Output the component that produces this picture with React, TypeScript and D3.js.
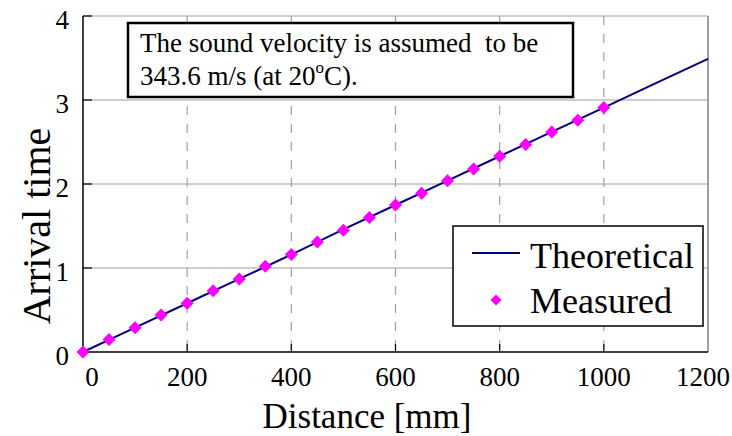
import React from "react";
import * as d3 from "d3";

const distances = [0, 50, 100, 150, 200, 250, 300, 350, 400, 450, 500, 550, 600, 650, 700, 750, 800, 850, 900, 950, 1000];
const measured = [0, 0.15, 0.29, 0.44, 0.58, 0.73, 0.87, 1.02, 1.16, 1.31, 1.45, 1.6, 1.75, 1.89, 2.04, 2.18, 2.33, 2.47, 2.62, 2.76, 2.91];
const theoDist = [0, 100, 200, 300, 400, 500, 600, 700, 800, 900, 1000, 1100, 1200];
const theoretical = [0, 0.29, 0.58, 0.87, 1.16, 1.46, 1.75, 2.04, 2.33, 2.62, 2.91, 3.2, 3.49];
const xTicks = [0, 200, 400, 600, 800, 1000, 1200];
const yTicks = [0, 1, 2, 3, 4];

const W = 732;
const H = 436;
const FONT = "'Liberation Serif', 'Times New Roman', serif";

export default function App() {
  const x = d3.scaleLinear().domain([0, 1200]).range([83, 708]);
  const y = d3.scaleLinear().domain([0, 4]).range([352, 16]);
  const line = d3
    .line<number>()
    .x((_, i) => x(theoDist[i]))
    .y((v) => y(v));
  const diamond = (cx: number, cy: number, r: number) =>
    `M${cx},${cy - r}L${cx + r},${cy}L${cx},${cy + r}L${cx - r},${cy}Z`;
  const tf = { fontFamily: FONT };

  return (
    <svg
      width={W}
      height={H}
      style={{ position: "fixed", left: 0, top: 0, background: "#fff" }}
      fontFamily={FONT}
    >
      <rect x={0} y={0} width={W} height={H} fill="#fff" />
      {yTicks.slice(1).map((t) => (
        <line key={"h" + t} x1={x(0)} x2={x(1200)} y1={y(t)} y2={y(t)} stroke="#a0a0a0" strokeWidth={1.2} />
      ))}
      {xTicks.slice(1, -1).map((t) => (
        <line key={"v" + t} x1={x(t)} x2={x(t)} y1={y(4)} y2={y(0)} stroke="#a0a0a0" strokeWidth={1.2} strokeDasharray="9,9" />
      ))}
      <line x1={x(1200)} x2={x(1200)} y1={y(4)} y2={y(0)} stroke="#808080" strokeWidth={1.5} />
      <line x1={x(0)} x2={x(0)} y1={y(4)} y2={y(0)} stroke="#000" strokeWidth={1.5} />
      <line x1={x(0)} x2={x(1200)} y1={y(0)} y2={y(0)} stroke="#000" strokeWidth={1.5} />
      {xTicks.slice(1, -1).map((t) => (
        <line key={"xt" + t} x1={x(t)} x2={x(t)} y1={y(0)} y2={y(0) - 8} stroke="#000" strokeWidth={1.2} />
      ))}
      {yTicks.slice(1).map((t) => (
        <line key={"yt" + t} x1={x(0)} x2={x(0) + 9} y1={y(t)} y2={y(t)} stroke="#000" strokeWidth={1.2} />
      ))}
      {xTicks.map((t) => (
        <text key={"xl" + t} x={x(t) + (t === 0 ? 9 : t === 1200 ? -5 : 0)} y={386} fontSize={27} textAnchor="middle" fill="#000" style={tf}>
          {t}
        </text>
      ))}
      {yTicks.map((t) => (
        <text key={"yl" + t} x={69} y={y(t) + 13} fontSize={27} textAnchor="end" fill="#000" style={tf}>
          {t}
        </text>
      ))}
      <text x={367} y={428} fontSize={35} textAnchor="middle" fill="#000" style={tf}>
        Distance [mm]
      </text>
      <text transform="translate(50,226) rotate(-90)" fontSize={40} textAnchor="middle" fill="#000" style={tf}>
        Arrival time
      </text>
      <path d={line(theoretical) || ""} fill="none" stroke="#000080" strokeWidth={2} />
      {measured.map((v, i) => (
        <path key={"m" + i} d={diamond(x(distances[i]), y(v), 6.5)} fill="#ff00ff" />
      ))}
      <rect x={128} y={23} width={445} height={74} fill="#fff" stroke="#000" strokeWidth={2.5} />
      <text x={140} y={52} fontSize={27} fill="#000" style={{ ...tf, whiteSpace: "pre" }}>
        The sound velocity is assumed  to be
      </text>
      <text x={140} y={85} fontSize={27} fill="#000" style={tf}>
        343.6 m/s (at 20<tspan fontSize={17} dy={-12}>o</tspan><tspan dy={12}>C).</tspan>
      </text>
      <rect x={453} y={226} width={250} height={100} fill="#fff" stroke="#000" strokeWidth={1.5} />
      <line x1={472} x2={520} y1={253} y2={253} stroke="#000080" strokeWidth={2} />
      <path d={diamond(496, 300, 5.5)} fill="#ff00ff" />
      <text x={530} y={268} fontSize={36} fill="#000" style={tf}>
        Theoretical
      </text>
      <text x={530} y={313} fontSize={36} fill="#000" style={tf}>
        Measured
      </text>
    </svg>
  );
}
